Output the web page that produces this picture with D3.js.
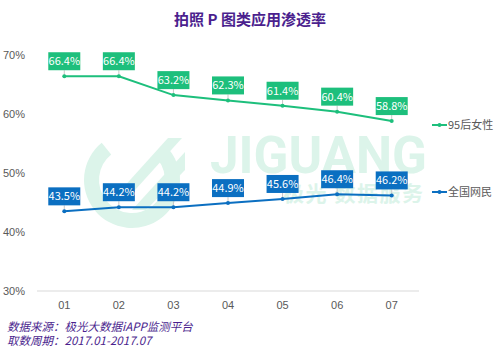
<!DOCTYPE html>
<html>
<head>
<meta charset="utf-8">
<script src="https://cdn.jsdelivr.net/npm/d3@7"></script>
<style>
  body { margin: 0; background: #fff; }
  svg { display: block; font-family: "Noto Sans CJK SC", "Noto Sans", sans-serif; }
</style>
</head>
<body>
<script>
const months = ['01', '02', '03', '04', '05', '06', '07'];
const girls95 = [66.4, 66.4, 63.2, 62.3, 61.4, 60.4, 58.8];
const allUsers = [43.5, 44.2, 44.2, 44.9, 45.6, 46.4, 46.2];
const yTicks = [30, 40, 50, 60, 70];
const seriesNames = ['95后女性', '全国网民'];
const seriesColors = ['#1dbf7c', '#0b6fc1'];

const w = 500, h = 353;
const svg = d3.select('body').append('svg').attr('width', w).attr('height', h);

// watermark
const wm = svg.append('g').attr('fill', '#dcf4ea');
wm.append('path')
  .attr('transform', 'translate(132,180)')
  .attr('d', d3.arc()({innerRadius: 33, outerRadius: 48, startAngle: 0.9, endAngle: 5.6}));
wm.append('path').attr('d', 'M112,200 L168,138 L182,138 L126,200 Z');
wm.append('path').attr('d', 'M132,210 L185,152 L185,170 L146,210 Z');
wm.append('text').attr('x', 210).attr('y', 173).attr('font-size', 52).attr('font-weight', 'bold')
  .attr('font-family', 'Roboto, sans-serif').attr('textLength', 217).attr('lengthAdjust', 'spacingAndGlyphs').text('JIGUANG');
wm.append('text').attr('x', 283).attr('y', 201).attr('font-size', 21).attr('font-weight', 'bold')
  .attr('textLength', 140).text('极光 数据服务');

// title
svg.append('text').attr('x', 250).attr('y', 25).attr('text-anchor', 'middle')
  .attr('font-size', 15).attr('font-weight', 'bold').attr('fill', '#4b1f8e')
  .text('拍照 P 图类应用渗透率');

const x = d3.scaleBand().domain(months).range([37, 419]);
const y = d3.scaleLinear().domain([30, 70]).range([291, 55]);

// y axis labels
svg.append('g').attr('transform', 'translate(28,0)')
  .call(d3.axisLeft(y).tickValues(yTicks).tickSize(0).tickFormat(d => d + '%'))
  .call(g => g.select('.domain').remove())
  .call(g => g.selectAll('text').attr('fill', '#595959').attr('font-size', 11).attr('dy', '0.35em'));

// baseline
svg.append('line').attr('x1', 37).attr('x2', 419).attr('y1', y(30)).attr('y2', y(30))
  .attr('stroke', '#d9d9d9').attr('stroke-width', 1);

// x axis labels
svg.append('g').attr('transform', `translate(0,${y(30)})`)
  .call(d3.axisBottom(x).tickSize(0).tickPadding(10))
  .call(g => g.select('.domain').remove())
  .call(g => g.selectAll('text').attr('fill', '#595959').attr('font-size', 11));

const line = d3.line().x((d, i) => x(months[i]) + x.bandwidth() / 2).y(d => y(d));

[girls95, allUsers].forEach((vals, s) => {
  const col = seriesColors[s];
  svg.append('path').datum(vals).attr('d', line).attr('fill', 'none')
    .attr('stroke', col).attr('stroke-width', 2);
  const pts = svg.append('g').selectAll('g').data(vals).enter().append('g')
    .attr('transform', (d, i) => `translate(${x(months[i]) + x.bandwidth() / 2},${y(d)})`);
  pts.append('line').attr('y1', 0).attr('y2', -6).attr('stroke', '#c8c8c8').attr('stroke-width', 1);
  pts.append('circle').attr('r', 2).attr('fill', col);
  pts.append('rect').attr('x', -16).attr('y', -24).attr('width', 32).attr('height', 18).attr('fill', col);
  pts.append('text').attr('y', -11).attr('text-anchor', 'middle').attr('fill', '#fff')
    .attr('font-size', 11).text(d => d.toFixed(1) + '%');

  // legend
  const ly = s === 0 ? 125 : 192;
  const lg = svg.append('g').attr('transform', `translate(432,${ly})`);
  lg.append('line').attr('x1', 0).attr('x2', 15).attr('stroke', col).attr('stroke-width', 2);
  lg.append('circle').attr('cx', 7.5).attr('r', 2).attr('fill', col);
  lg.append('text').attr('x', 16).attr('dy', '0.35em').attr('font-size', 11).attr('fill', '#595959')
    .text(seriesNames[s]);
});

// footer
const foot = svg.append('g').attr('fill', '#4b1f8e').attr('font-size', 11.5).attr('font-style', 'italic');
foot.append('text').attr('x', 7).attr('y', 331).text('数据来源：极光大数据iAPP监测平台');
foot.append('text').attr('x', 7).attr('y', 345).text('取数周期：2017.01-2017.07');
</script>
</body>
</html>
